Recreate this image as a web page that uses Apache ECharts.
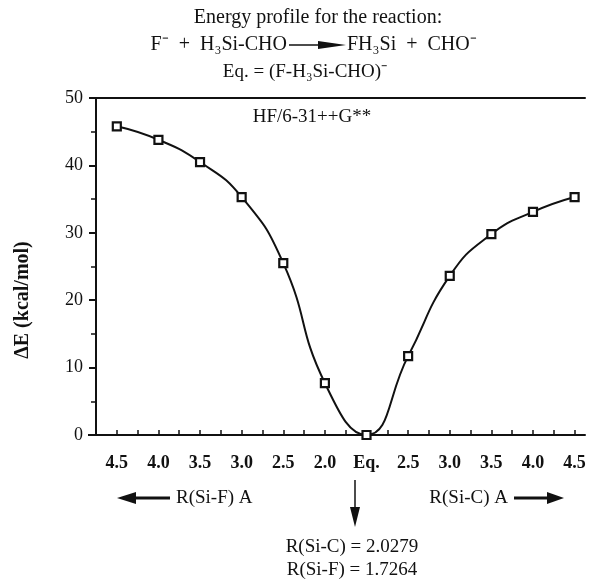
<!DOCTYPE html>
<html><head><meta charset="utf-8">
<script src="https://cdn.jsdelivr.net/npm/echarts@6/dist/echarts.min.js"></script>
<style>html,body{margin:0;padding:0;background:#fff}#c{width:596px;height:581px}</style>
</head><body><div id="c"></div>
<script>
const tickLabels = ['4.5','4.0','3.5','3.0','2.5','2.0','Eq.','2.5','3.0','3.5','4.0','4.5'];
const energies = [45.8, 43.8, 40.5, 35.3, 25.5, 7.7, 0, 11.7, 23.6, 29.8, 33.1, 35.3];
const yTicks = [0, 10, 20, 30, 40, 50];

const serif = '"Liberation Serif", "Times New Roman", serif';
const chart = echarts.init(document.getElementById('c'), null, {renderer: 'canvas'});
const data = energies.map((v, i) => [i, v]);

const txt = (x, y, text, opts) => Object.assign({
  type: 'text', x: x, y: y,
  style: Object.assign({text: text, font: '19px ' + serif, fill: '#111', align: 'center', verticalAlign: 'middle'}, opts || {})
});

chart.setOption({
  animation: false,
  backgroundColor: '#fff',
  grid: {left: 96, right: 11, top: 98, bottom: 146},
  xAxis: [{
    type: 'value', min: -0.5, max: 11.25, interval: 0.5,
    axisLine: {show: true, onZero: false, lineStyle: {color: '#111', width: 2}},
    axisTick: {show: true, inside: true, length: 5, lineStyle: {color: '#111', width: 1.5}},
    splitLine: {show: false},
    axisLabel: {
      margin: 19, color: '#111', fontFamily: serif, fontSize: 18, fontWeight: 'bold',
      showMinLabel: false, showMaxLabel: false,
      formatter: v => (Number.isInteger(v) && v >= 0 && v < tickLabels.length) ? tickLabels[v] : ''
    }
  }, {
    type: 'value', position: 'top', min: -0.5, max: 11.25,
    axisLine: {show: true, onZero: false, lineStyle: {color: '#111', width: 2}},
    axisTick: {show: false}, axisLabel: {show: false}, splitLine: {show: false}
  }],
  yAxis: {
    type: 'value', min: yTicks[0], max: yTicks[yTicks.length - 1], interval: 10,
    axisLine: {show: true, onZero: false, lineStyle: {color: '#111', width: 2}},
    axisTick: {show: true, length: 7, lineStyle: {color: '#111', width: 2}},
    minorTick: {show: true, splitNumber: 2, length: 5, lineStyle: {color: '#111', width: 1.5}},
    splitLine: {show: false},
    axisLabel: {margin: 13, color: '#111', fontFamily: serif, fontSize: 18}
  },
  series: [{
    type: 'line', data: data, smooth: 0.5,
    lineStyle: {color: '#111', width: 2},
    symbol: 'rect', symbolSize: 8,
    itemStyle: {color: '#fff', borderColor: '#111', borderWidth: 2.2}
  }],
  graphic: [
    {type: 'line', shape: {x1: 88, y1: 435, x2: 97, y2: 435}, style: {stroke: '#111', lineWidth: 2}},
    txt(318, 18, 'Energy profile for the reaction:', {font: '20px ' + serif}),
    txt(287, 45, 'F⁻  +  H₃Si-CHO', {font: '20px ' + serif, align: 'right'}),
    {type: 'line', shape: {x1: 289, y1: 45, x2: 330, y2: 45}, style: {stroke: '#111', lineWidth: 1.5}},
    {type: 'polygon', shape: {points: [[318, 41], [346, 45], [318, 49]]}, style: {fill: '#111'}},
    txt(347, 45, 'FH₃Si  +  CHO⁻', {font: '20px ' + serif, align: 'left'}),
    txt(305, 72, 'Eq. = (F-H₃Si-CHO)⁻'),
    txt(312, 117, 'HF/6-31++G**'),
    {type: 'text', x: 23, y: 300, rotation: Math.PI / 2,
      style: {text: 'ΔE (kcal/mol)', font: 'bold 20px ' + serif, fill: '#111', align: 'center', verticalAlign: 'middle'}},
    {type: 'polygon', shape: {points: [[117, 498], [136, 492], [136, 504]]}, style: {fill: '#111'}},
    {type: 'line', shape: {x1: 134, y1: 498, x2: 170, y2: 498}, style: {stroke: '#111', lineWidth: 3}},
    txt(176, 498, 'R(Si-F) A', {align: 'left'}),
    txt(508, 498, 'R(Si-C) A', {align: 'right'}),
    {type: 'line', shape: {x1: 514, y1: 498, x2: 549, y2: 498}, style: {stroke: '#111', lineWidth: 3}},
    {type: 'polygon', shape: {points: [[547, 492], [564, 498], [547, 504]]}, style: {fill: '#111'}},
    {type: 'line', shape: {x1: 355, y1: 480, x2: 355, y2: 512}, style: {stroke: '#111', lineWidth: 1.5}},
    {type: 'polygon', shape: {points: [[350, 507], [355, 527], [360, 507]]}, style: {fill: '#111'}},
    txt(352, 547, 'R(Si-C) = 2.0279'),
    txt(352, 570, 'R(Si-F) = 1.7264')
  ]
});
</script></body></html>
